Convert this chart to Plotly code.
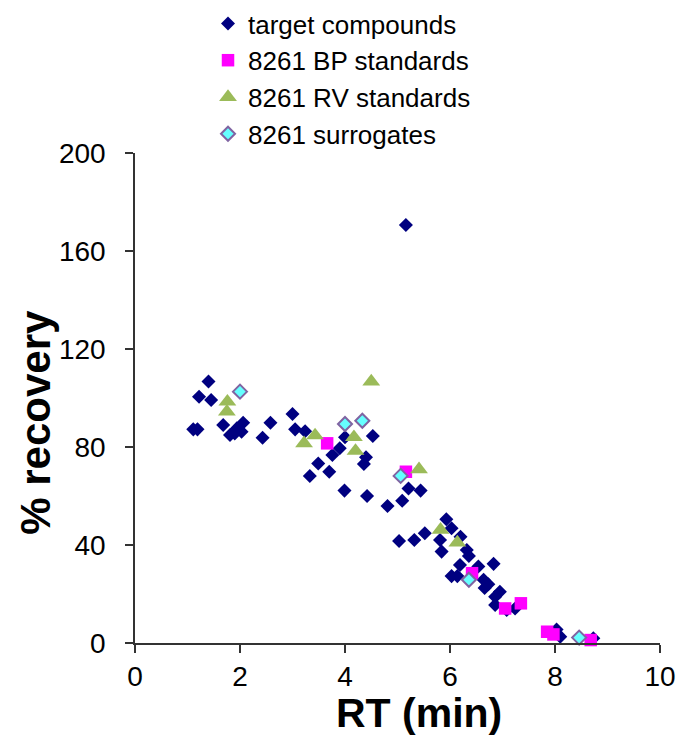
import plotly.graph_objects as go

# Retention time (min) and % recovery for each compound class
target_rt = [1.11, 1.19, 1.22, 1.40, 1.45, 1.68, 1.81, 1.90, 1.94, 2.03,
             2.06, 2.43, 2.58, 3.00, 3.05, 3.24, 3.33, 3.49, 3.70, 3.76,
             3.90, 3.99, 4.00, 4.36, 4.40, 4.42, 4.53, 4.81, 5.03, 5.09,
             5.16, 5.21, 5.32, 5.44, 5.52, 5.81, 5.84, 5.93, 6.03, 6.03,
             6.14, 6.19, 6.20, 6.32, 6.36, 6.54, 6.64, 6.66, 6.73, 6.83,
             6.86, 6.86, 6.95, 7.08, 7.24, 8.03, 8.10, 8.73]
target_rec = [87.2, 87.2, 100.5, 106.7, 99.2, 89.0, 84.9, 85.5, 87.6, 86.2,
              89.9, 83.8, 89.9, 93.5, 87.2, 86.4, 68.2, 73.3, 69.9, 76.7,
              79.5, 62.2, 84.0, 73.1, 75.8, 60.0, 84.5, 55.9, 41.6, 58.1,
              170.6, 63.1, 42.0, 62.2, 44.8, 42.0, 37.3, 50.5, 46.8, 27.3,
              27.3, 31.8, 43.4, 38.0, 35.5, 31.2, 25.8, 22.5, 24.0, 32.3,
              18.9, 15.5, 20.9, 13.5, 14.1, 5.5, 2.6, 1.9]

bp_rt = [3.66, 5.16, 6.42, 7.05, 7.35, 7.85, 7.97, 8.68]
bp_rec = [81.5, 69.9, 28.5, 14.1, 16.2, 4.6, 3.5, 1.2]

rv_rt = [1.75, 1.76, 3.22, 3.43, 4.17, 4.20, 4.50, 5.41, 5.82, 6.14]
rv_rec = [94.4, 98.5, 81.5, 84.7, 84.0, 78.4, 106.7, 70.9, 46.2, 41.0]

surr_rt = [2.00, 4.00, 4.33, 5.06, 6.36, 8.46]
surr_rec = [102.6, 89.4, 90.7, 68.2, 25.8, 2.2]

x_ticks = [0, 2, 4, 6, 8, 10]
y_ticks = [0, 40, 80, 120, 160, 200]

FONT = "Liberation Sans, Arial, sans-serif"
AXIS_COLOR = "#333333"

fig = go.Figure()

fig.add_trace(go.Scatter(
    x=target_rt, y=target_rec, mode="markers", name="target compounds",
    marker=dict(symbol="diamond", size=10.8, color="#000080",
                line=dict(width=0)),
    cliponaxis=False,
))
fig.add_trace(go.Scatter(
    x=bp_rt, y=bp_rec, mode="markers", name="8261 BP standards",
    marker=dict(symbol="square", size=12.5, color="#FF00FF",
                line=dict(width=0)),
    cliponaxis=False,
))
fig.add_trace(go.Scatter(
    x=rv_rt, y=rv_rec, mode="markers", name="8261 RV standards",
    marker=dict(symbol="triangle-up", size=15.5, color="#9BBB59",
                line=dict(width=0)),
    cliponaxis=False,
))
fig.add_trace(go.Scatter(
    x=surr_rt, y=surr_rec, mode="markers", name="8261 surrogates",
    marker=dict(symbol="diamond", size=10.8, color="#66FFFF",
                line=dict(width=2, color="#8064A2")),
    cliponaxis=False,
))

fig.update_layout(
    width=682, height=737,
    margin=dict(l=135, r=22, t=153, b=94, autoexpand=False),
    paper_bgcolor="white", plot_bgcolor="white",
    font=dict(family=FONT, color="black"),
    showlegend=True,
    legend=dict(
        xref="container", yref="container",
        x=0.305, y=1.0, xanchor="left", yanchor="top",
        font=dict(family=FONT, size=26, color="black"),
        bgcolor="rgba(0,0,0,0)", borderwidth=0,
        tracegroupgap=0, itemwidth=30,
    ),
    xaxis=dict(
        range=[0, 10], tickvals=x_ticks, ticktext=[str(v) for v in x_ticks],
        showgrid=False, zeroline=False,
        showline=True, linecolor=AXIS_COLOR, linewidth=1.5,
        ticks="outside", ticklen=8, tickcolor=AXIS_COLOR, tickwidth=1.5,
        tickfont=dict(family=FONT, size=28, color="black"),
    ),
    yaxis=dict(
        range=[0, 200], tickvals=y_ticks,
        ticktext=[str(v) for v in y_ticks],
        showgrid=False, zeroline=False,
        showline=True, linecolor=AXIS_COLOR, linewidth=1.5,
        ticks="outside", ticklen=8, tickcolor=AXIS_COLOR, tickwidth=1.5,
        tickfont=dict(family=FONT, size=28, color="black"),
        ticklabelstandoff=14,
    ),
    annotations=[
        dict(text="<b>% recovery</b>", textangle=-90,
             xref="paper", yref="paper", x=-0.19, y=0.45,
             xanchor="center", yanchor="middle", showarrow=False,
             font=dict(family=FONT, size=42, color="black")),
        dict(text="<b>RT (min)</b>",
             xref="paper", yref="paper", x=0.54, y=-0.142,
             xanchor="center", yanchor="middle", showarrow=False,
             font=dict(family=FONT, size=41, color="black")),
    ],
)

fig.write_html("out.html")
